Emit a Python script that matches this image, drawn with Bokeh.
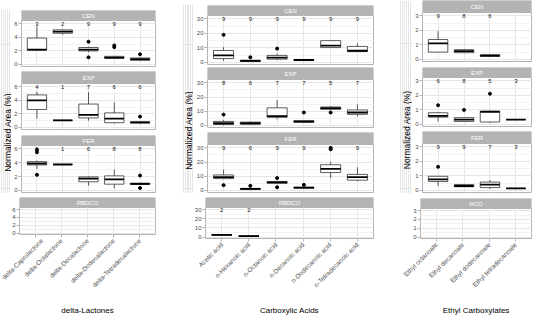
import math
from bokeh.plotting import figure
from bokeh.layouts import row, column
from bokeh.models import Range1d, LinearAxis, FixedTicker, Grid, Spacer, BoxAnnotation
from bokeh.core.properties import value
from bokeh.embed import file_html
from bokeh.resources import INLINE

# ---------------- data ----------------
FACETS_AB = ["CEN", "EXP", "FER", "RBDCO"]
FACETS_C = ["CEN", "EXP", "FER", "RCO"]
Y_TITLE = "Normalized Area (%)"

# delta-Lactones  (box stats: low whisker, q1, median, q3, high whisker)
LAC_CATS = ["delta-Caprolactone", "delta-Octalactone", "delta-Decalactone",
            "delta-Dodecalactone", "delta-Tetradecalactone"]
LAC_TICKS = [0, 2, 4, 6]
LAC_MINOR = [1, 3, 5]
LAC_CEN_BOX = [(2.0, 2.1, 2.2, 3.9, 5.6), (4.4, 4.6, 4.85, 5.1, 5.2),
               (1.8, 2.0, 2.2, 2.5, 2.6), (0.85, 0.9, 1.0, 1.2, 1.25),
               (0.55, 0.6, 0.8, 0.95, 1.0)]
LAC_CEN_OUT = [[], [], [3.35, 1.05], [2.8, 2.55], [1.5]]
LAC_CEN_N = [3, 2, 9, 9, 9]
LAC_EXP_BOX = [(1.3, 2.65, 4.0, 4.8, 5.25), (1.05, 1.05, 1.05, 1.05, 1.05),
               (1.0, 1.4, 1.85, 3.45, 5.2), (0.6, 0.7, 1.3, 2.15, 3.7),
               (0.6, 0.65, 0.75, 0.82, 0.9)]
LAC_EXP_OUT = [[], [], [], [], [1.6]]
LAC_EXP_N = [4, 1, 7, 6, 6]
LAC_FER_BOX = [(3.1, 3.68, 3.88, 4.15, 4.3), (3.74, 3.74, 3.74, 3.74, 3.74),
               (0.7, 1.25, 1.7, 1.95, 2.0), (0.3, 0.9, 1.6, 2.1, 3.0),
               (0.8, 0.85, 0.95, 1.05, 1.1)]
LAC_FER_OUT = [[2.25, 5.5, 5.85], [], [], [], [2.15, 0.35]]
LAC_FER_N = [9, 1, 6, 8, 8]
LAC_RBD_BOX = [None, None, None, None, None]
LAC_RBD_OUT = [[], [], [], [], []]
LAC_RBD_N = [None, None, None, None, None]

# Carboxylic Acids
ACID_CATS = ["Acetic acid", "n-Hexanoic acid", "n-Octanoic acid", "n-Decanoic acid",
             "n-Dodecanoic acid", "n-Tetradecanoic acid"]
ACID_TICKS = [0, 10, 20, 30]
ACID_MINOR = [5, 15, 25]
ACID_CEN_BOX = [(1.0, 2.6, 4.8, 8.2, 10.5), (0.5, 0.65, 1.0, 1.5, 1.7),
                (1.5, 2.2, 3.3, 4.8, 6.0), (1.2, 1.3, 1.6, 2.0, 2.1),
                (10.0, 10.2, 11.5, 15.0, 15.5), (7.0, 7.4, 8.0, 11.0, 13.0)]
ACID_CEN_OUT = [[19.0], [3.5], [9.5], [], [], []]
ACID_CEN_N = [9, 9, 9, 9, 9, 9]
ACID_EXP_BOX = [(0.0, 0.65, 1.5, 2.8, 3.9), (0.6, 0.85, 1.5, 2.3, 2.5),
                (4.4, 5.7, 6.5, 12.4, 18.0), (2.0, 2.2, 2.7, 3.4, 3.6),
                (11.0, 11.3, 12.2, 13.0, 13.5), (6.5, 7.8, 9.1, 10.9, 14.8)]
ACID_EXP_OUT = [[7.6], [], [], [9.1], [9.1], []]
ACID_EXP_N = [8, 6, 7, 7, 5, 7]
ACID_FER_BOX = [(8.0, 8.3, 9.4, 10.9, 14.6), (0.5, 0.65, 1.0, 1.4, 1.6),
                (4.5, 5.0, 5.6, 6.3, 6.6), (1.4, 1.5, 1.9, 2.2, 2.3),
                (8.7, 12.6, 15.2, 18.1, 20.2), (6.5, 7.2, 9.4, 11.3, 16.3)]
ACID_FER_OUT = [[3.7], [3.2], [8.7, 2.2], [3.9], [29.0, 30.0], []]
ACID_FER_N = [9, 6, 9, 9, 9, 9]
ACID_RBD_BOX = [(2.3, 2.35, 2.4, 2.45, 2.5), (1.0, 1.05, 1.1, 1.15, 1.2),
                None, None, None, None]
ACID_RBD_OUT = [[], [], [], [], [], []]
ACID_RBD_N = [2, 2, None, None, None, None]

# Ethyl Carboxylates
EST_CATS = ["Ethyl octanoate", "Ethyl decanoate", "Ethyl dodecanoate", "Ethyl tetradecanoate"]
EST_TICKS = [0, 1, 2, 3]
EST_MINOR = [0.5, 1.5, 2.5]
EST_CEN_BOX = [(0.5, 0.5, 1.1, 1.37, 1.95), (0.42, 0.46, 0.57, 0.67, 0.7),
               (0.18, 0.2, 0.25, 0.32, 0.34), None]
EST_CEN_OUT = [[], [], [], []]
EST_CEN_N = [9, 8, 6, None]
EST_EXP_BOX = [(0.2, 0.5, 0.59, 0.8, 0.85), (0.18, 0.2, 0.33, 0.46, 0.48),
               (0.1, 0.16, 0.86, 0.92, 0.95), (0.33, 0.33, 0.33, 0.33, 0.33)]
EST_EXP_OUT = [[1.32], [1.0], [2.12], []]
EST_EXP_N = [6, 8, 5, 3]
EST_FER_BOX = [(0.3, 0.61, 0.76, 0.97, 1.0), (0.22, 0.25, 0.3, 0.4, 0.45),
               (0.1, 0.19, 0.4, 0.57, 0.72), (0.13, 0.13, 0.13, 0.13, 0.13)]
EST_FER_OUT = [[1.63], [], [], []]
EST_FER_N = [9, 9, 7, 3]
EST_RCO_BOX = [None, None, None, None]
EST_RCO_OUT = [[], [], [], []]
EST_RCO_N = [None, None, None, None]

# ---------------- style / layout ----------------
FONT = "Liberation Sans"
INK = "#333333"
BORDER = "#b3b3b3"
STRIP = "#b3b3b3"
GRID = "#e6e6e6"
GRID_MINOR = "#f2f2f2"
BOX_W = 0.75

SX = 532 / 539
SY = 317 / 329
BOTTOM = 334


def rx(x):
    return round((x - 5) * SX)


def ry(y):
    return round((y - 5) * SY)


def wx(a, b):
    return rx(b) - rx(a)


def hy(a, b):
    return ry(b) - ry(a)


def strip_fig(label, width, height, left):
    p = figure(width=width, height=height, x_range=Range1d(0, 1), y_range=Range1d(0, 1),
               x_axis_location=None, y_axis_location=None, toolbar_location=None,
               output_backend="svg", min_border_left=left, min_border_right=1,
               min_border_top=0, min_border_bottom=0, outline_line_color=None,
               background_fill_color=STRIP, border_fill_color="white")
    p.title.visible = False
    p.add_layout(BoxAnnotation(fill_color=STRIP, fill_alpha=1.0, line_color=None,
                               level="underlay"))
    p.text(x=[0.5], y=[0.5], text=[label], text_font=value(FONT), text_font_size="6px",
           text_color="white", text_align="center", text_baseline="middle")
    return p


def title_fig(width, height, x0, x1, ytop, ybot, tx, ty):
    p = figure(width=width, height=height, x_range=Range1d(x0, x1), y_range=Range1d(ybot, ytop),
               x_axis_location=None, y_axis_location=None, toolbar_location=None,
               output_backend="svg", min_border=0, outline_line_color=None,
               border_fill_color="white", background_fill_color="white")
    p.title.visible = False
    p.text(x=[tx], y=[ty], text=[Y_TITLE], angle=math.pi / 2, text_font=value(FONT),
           text_font_size="8.5px", text_color="black", text_align="center",
           text_baseline="middle")
    return p


def cell_fig(width, height, left, bottom, cats, ticks, minor, box, outs, ns, xtitle=None):
    span = ticks[-1] - ticks[0]
    n = len(cats)
    p = figure(width=width, height=height, x_range=Range1d(0.4, n + 0.6),
               y_range=Range1d(ticks[0] - 0.05 * span, ticks[-1] + 0.08 * span),
               x_axis_location=None, y_axis_location=None, toolbar_location=None,
               output_backend="svg", min_border_left=left, min_border_right=1,
               min_border_top=0, min_border_bottom=bottom,
               outline_line_color=BORDER, outline_line_width=1,
               background_fill_color="white", border_fill_color="white")
    p.title.visible = False
    idx = list(range(1, n + 1))
    p.add_layout(Grid(dimension=0, ticker=FixedTicker(ticks=idx),
                      grid_line_color=GRID, grid_line_width=1))
    p.add_layout(Grid(dimension=1, ticker=FixedTicker(ticks=ticks, minor_ticks=minor),
                      grid_line_color=GRID, grid_line_width=1,
                      minor_grid_line_color=GRID_MINOR, minor_grid_line_width=1))
    yax = LinearAxis(ticker=FixedTicker(ticks=ticks), axis_line_color=None,
                     major_tick_line_color=BORDER, major_tick_out=3, major_tick_in=0,
                     minor_tick_line_color=None, major_label_standoff=1,
                     major_label_text_font=FONT, major_label_text_font_size="6px",
                     major_label_text_color="#4d4d4d")
    p.add_layout(yax, "left")
    if xtitle is not None:
        overrides = {}
        for i, c in zip(idx, cats):
            overrides[i] = c
            overrides[str(i)] = c
        xax = LinearAxis(ticker=FixedTicker(ticks=idx), major_label_overrides=overrides,
                         major_label_orientation=math.pi / 4, axis_line_color=None,
                         major_tick_line_color=BORDER, major_tick_out=3, major_tick_in=0,
                         minor_tick_line_color=None, major_label_standoff=2,
                         major_label_text_font=FONT, major_label_text_font_size="6.5px",
                         major_label_text_color="#4d4d4d", axis_label=xtitle,
                         axis_label_text_font=FONT, axis_label_text_font_size="8px",
                         axis_label_text_font_style="normal", axis_label_text_color="black",
                         axis_label_standoff=12)
        p.add_layout(xax, "below")

    bx = [i for i, b in zip(idx, box) if b is not None]
    bb = [b for b in box if b is not None]
    if bx:
        lo = [b[0] for b in bb]
        q1 = [b[1] for b in bb]
        med = [b[2] for b in bb]
        q3 = [b[3] for b in bb]
        hi = [b[4] for b in bb]
        p.segment(x0=bx, y0=q3, x1=bx, y1=hi, line_color=INK, line_width=0.8)
        p.segment(x0=bx, y0=lo, x1=bx, y1=q1, line_color=INK, line_width=0.8)
        p.vbar(x=bx, width=BOX_W, bottom=q1, top=q3, fill_color="white",
               line_color=INK, line_width=0.8)
        p.segment(x0=[x - BOX_W / 2 for x in bx], y0=med, x1=[x + BOX_W / 2 for x in bx],
                  y1=med, line_color="black", line_width=1.8)
    ox, oy = [], []
    for i, o in zip(idx, outs):
        for v in o:
            ox.append(i)
            oy.append(v)
    if ox:
        p.scatter(x=ox, y=oy, size=3, color="black")
    lx = [i for i, c in zip(idx, ns) if c]
    lt = [str(c) for c in ns if c]
    if lx:
        p.text(x=lx, y=[ticks[-1]] * len(lx), text=lt, text_font=value(FONT),
               text_font_size="6px", text_color="#1a1a1a", text_align="center",
               text_baseline="middle")
    return p


def panel(geo, facets, cats, ticks, minor, boxes, outs, ns, xtitle):
    tl, tr, fl, fr, tx = geo["tl"], geo["tr"], geo["fl"], geo["fr"], geo["tx"]
    S, P = geo["strips"], geo["plots"]
    inner = []
    for k in range(3):
        if k > 0:
            inner.append(Spacer(width=wx(tr, fr), height=hy(P[k - 1][1], S[k])))
        inner.append(strip_fig(facets[k], wx(tr, fr), hy(S[k], P[k][0]), wx(tr, fl)))
        inner.append(cell_fig(wx(tr, fr), hy(P[k][0], P[k][1]), wx(tr, fl), 1,
                              cats, ticks, minor, boxes[k], outs[k], ns[k]))
    tfig = title_fig(wx(tl, tr), hy(S[0], P[2][1]), tl, tr, S[0], P[2][1],
                     tx, (S[0] + P[3][1]) / 2)
    parts = []
    if hy(5, S[0]) > 0:
        parts.append(Spacer(width=wx(tl, fr), height=hy(5, S[0])))
    parts.append(row(tfig, column(inner)))
    parts.append(Spacer(width=wx(tl, fr), height=hy(P[2][1], S[3])))
    parts.append(strip_fig(facets[3], wx(tl, fr), hy(S[3], P[3][0]), wx(tl, fl)))
    parts.append(cell_fig(wx(tl, fr), hy(P[3][0], BOTTOM), wx(tl, fl), hy(P[3][1], BOTTOM),
                          cats, ticks, minor, boxes[3], outs[3], ns[3], xtitle))
    return column(parts)


G1 = dict(tl=5, tr=16, fl=24, fr=163, tx=12,
          strips=[14, 79, 144, 208], plots=[(26, 75), (91, 140), (156, 205), (220, 269)])
G2 = dict(tl=188, tr=201, fl=213, fr=384, tx=196.5,
          strips=[9, 75, 142, 208], plots=[(21, 72), (87, 138), (154, 205), (220, 270)])
G3 = dict(tl=409, tr=422, fl=431, fr=544, tx=416.5,
          strips=[5, 73, 141, 209], plots=[(17, 69), (85, 137), (153, 205), (221, 273)])

p1 = panel(G1, FACETS_AB, LAC_CATS, LAC_TICKS, LAC_MINOR,
           [LAC_CEN_BOX, LAC_EXP_BOX, LAC_FER_BOX, LAC_RBD_BOX],
           [LAC_CEN_OUT, LAC_EXP_OUT, LAC_FER_OUT, LAC_RBD_OUT],
           [LAC_CEN_N, LAC_EXP_N, LAC_FER_N, LAC_RBD_N], "delta-Lactones")
p2 = panel(G2, FACETS_AB, ACID_CATS, ACID_TICKS, ACID_MINOR,
           [ACID_CEN_BOX, ACID_EXP_BOX, ACID_FER_BOX, ACID_RBD_BOX],
           [ACID_CEN_OUT, ACID_EXP_OUT, ACID_FER_OUT, ACID_RBD_OUT],
           [ACID_CEN_N, ACID_EXP_N, ACID_FER_N, ACID_RBD_N], "Carboxylic Acids")
p3 = panel(G3, FACETS_C, EST_CATS, EST_TICKS, EST_MINOR,
           [EST_CEN_BOX, EST_EXP_BOX, EST_FER_BOX, EST_RCO_BOX],
           [EST_CEN_OUT, EST_EXP_OUT, EST_FER_OUT, EST_RCO_OUT],
           [EST_CEN_N, EST_EXP_N, EST_FER_N, EST_RCO_N], "Ethyl Carboxylates")

p = row(p1, Spacer(width=wx(163, 188), height=1), p2,
        Spacer(width=wx(384, 409), height=1), p3)

open("out.html", "w").write(file_html(p, INLINE))
